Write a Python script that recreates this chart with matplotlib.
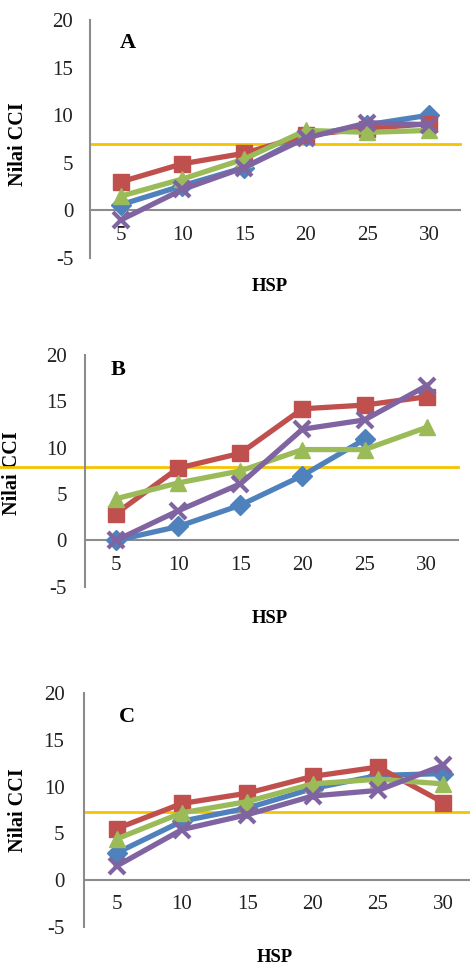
import matplotlib
matplotlib.use("Agg")
import numpy as np
import matplotlib.pyplot as plt

plt.rcParams['font.family'] = ['Liberation Serif', 'DejaVu Serif']
plt.rcParams['axes.unicode_minus'] = False

hsp = [5, 10, 15, 20, 25, 30]

# panel A
a_blue = [0.6, 2.6, 4.5, 7.8, 9.0, 10.0]
a_red = [3.0, 4.9, 6.0, 7.9, 8.6, 9.1]
a_green = [1.5, 3.3, 5.4, 8.4, 8.2, 8.4]
a_purple = [-1.0, 2.2, 4.5, 7.6, 9.2, 9.0]
a_ref = 7.0

# panel B (blue has no value at 30)
b_blue = [0.0, 1.5, 3.8, 7.0, 10.9, np.nan]
b_red = [2.9, 7.8, 9.4, 14.2, 14.6, 15.5]
b_green = [4.5, 6.2, 7.5, 9.8, 9.8, 12.2]
b_purple = [0.0, 3.2, 6.1, 12.0, 13.0, 16.7]
b_ref = 7.9

# panel C
c_blue = [2.9, 6.3, 7.7, 9.8, 11.2, 11.4]
c_red = [5.5, 8.2, 9.3, 11.1, 12.1, 8.3]
c_green = [4.4, 7.2, 8.4, 10.3, 10.8, 10.3]
c_purple = [1.5, 5.4, 7.0, 9.0, 9.6, 12.3]
c_ref = 7.3

yticks = [-5, 0, 5, 10, 15, 20]
colors = {'blue': '#4F81BD', 'red': '#C0504D', 'green': '#9BBB59', 'purple': '#8064A2'}
yellow = '#F5C400'
grey = '#8C8C8C'

fig = plt.figure(figsize=(4.70, 9.69), dpi=100)

panels = [
    # rect, letter, data, ref, ylabel pos, hsp pos, letter pos, yellow xmin, ytick pad
    ([0.1915, 0.7337, 0.787, 0.2457], 'A', (a_blue, a_red, a_green, a_purple), a_ref,
     (-0.168, 0.48), (0.486, -0.118), (0.103, 0.903), 0.0, 12),
    ([0.181, 0.3945, 0.793, 0.2391], 'B', (b_blue, b_red, b_green, b_purple), b_ref,
     (-0.169, 0.49), (0.496, -0.135), (0.088, 0.935), -0.228, 13),
    ([0.1787, 0.0437, 0.834, 0.2408], 'C', (c_blue, c_red, c_green, c_purple), c_ref,
     (-0.143, 0.50), (0.487, -0.134), (0.11, 0.898), 0.0, 14),
]

for rect, letter, data, ref, ylab, hsplab, letpos, yx0, ypad in panels:
    ax = fig.add_axes(rect)
    blue, red, green, purple = data
    ax.plot(hsp, blue, color=colors['blue'], lw=3.8, marker='D', ms=10, zorder=3)
    ax.plot(hsp, red, color=colors['red'], lw=3.8, marker='s', ms=11.5, zorder=3)
    ax.plot(hsp, green, color=colors['green'], lw=3.8, marker='^', ms=12, zorder=4)
    ax.plot(hsp, purple, color=colors['purple'], lw=3.8, marker='x', ms=12, mew=3, zorder=5)
    ax.axhline(ref, xmin=yx0, xmax=1.0, color=yellow, lw=2, clip_on=False, zorder=2)

    ax.set_xlim(2.5, 32.5)
    ax.set_ylim(-5, 20)
    ax.set_xticks(hsp)
    ax.set_yticks(yticks)
    for s in ['top', 'right']:
        ax.spines[s].set_visible(False)
    ax.spines['bottom'].set_position(('data', 0))
    ax.spines['bottom'].set_color(grey)
    ax.spines['left'].set_color(grey)
    ax.spines['bottom'].set_linewidth(1.5)
    ax.spines['left'].set_linewidth(1.5)
    ax.tick_params(axis='x', length=0, pad=11, labelsize=15, colors='#222222')
    ax.tick_params(axis='y', length=0, pad=ypad, labelsize=15, colors='#222222')

    ax.set_ylabel('Nilai CCI', fontsize=14.5, fontweight='bold')
    ax.yaxis.set_label_coords(*ylab)
    ax.text(hsplab[0], hsplab[1], 'HSP', transform=ax.transAxes, ha='center', va='center',
            fontsize=13.5, fontweight='bold')
    ax.text(letpos[0], letpos[1], letter, transform=ax.transAxes, ha='center', va='center',
            fontsize=16, fontweight='bold')

plt.savefig('out.png', dpi=100)
